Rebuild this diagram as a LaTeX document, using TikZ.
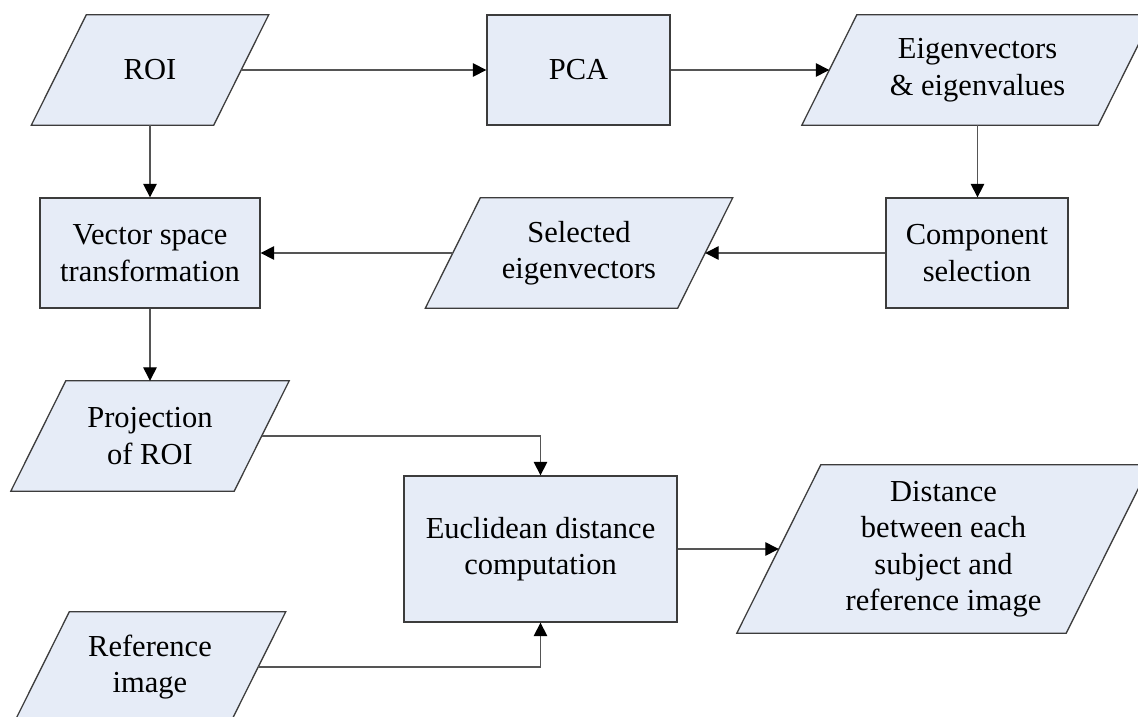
\documentclass[tikz,border=0pt]{standalone}
\usepackage{fontspec}
\setmainfont{Liberation Serif}
\usetikzlibrary{arrows.meta,backgrounds}
\definecolor{boxfill}{RGB}{230,236,247}
\definecolor{boxline}{RGB}{60,60,60}
\definecolor{conline}{RGB}{85,85,85}
\tikzset{
  ptext/.style={inner sep=0pt, align=center, font=\fontsize{30.5}{36.5}\selectfont},
  rectbox/.style={ptext, draw=boxline, fill=boxfill, line width=1.3pt},
  shapeline/.style={draw=boxline, fill=boxfill, line width=1.3pt},
  conn/.style={draw=conline, line width=1.3pt, -{Triangle[length=13.5pt,width=13.5pt,color=black]}}
}
\newcommand\mypara[6]{%
  \node[ptext, minimum width=#4pt, minimum height=#5pt] (#1) at (#2,#3) {#6};
  \begin{pgfonlayer}{background}
    \path[shapeline] ([xshift=#5pt/4]#1.north west) -- ([xshift=#5pt/4]#1.north east)
      -- ([xshift=-#5pt/4]#1.south east) -- ([xshift=-#5pt/4]#1.south west) -- cycle;
  \end{pgfonlayer}}
\begin{document}
\begin{tikzpicture}[x=1pt,y=-1pt]
\useasboundingbox (0,0) rectangle (1138,717);
\mypara{roi}{150}{70}{182}{110}{ROI}
\node[rectbox, minimum width=183pt, minimum height=110pt] (pca) at (578.5,70) {PCA};
\mypara{eig}{977.5}{70}{296}{110}{Eigenvectors\\\& eigenvalues}
\node[rectbox, minimum width=182pt, minimum height=110pt] (comp) at (977,253) {Component\\selection};
\mypara{sel}{579}{253}{252}{110}{Selected\\eigenvectors}
\node[rectbox, minimum width=220pt, minimum height=110pt] (vst) at (150,253) {Vector space\\transformation};
\mypara{proj}{150}{436}{223}{110}{Projection\\of ROI}
\node[rectbox, minimum width=273pt, minimum height=146pt] (euc) at (540.5,549) {Euclidean distance\\computation};
\mypara{dist}{943.5}{549}{329}{168}{Distance\\between each\\subject and\\reference image}
\mypara{ref}{150}{667}{216}{110}{Reference\\image}
\draw[conn] (roi.east) -- (pca.west);
\draw[conn] (pca.east) -- (eig.west);
\draw[conn] (roi.south) -- (vst.north);
\draw[conn] (eig.south) -- (eig.south |- comp.north);
\draw[conn] (comp.west) -- (sel.east);
\draw[conn] (sel.west) -- (vst.east);
\draw[conn] (vst.south) -- (proj.north);
\draw[conn] (proj.east) -| (euc.north);
\draw[conn] (ref.east) -| (euc.south);
\draw[conn] (euc.east) -- (dist.west);
\end{tikzpicture}
\end{document}
